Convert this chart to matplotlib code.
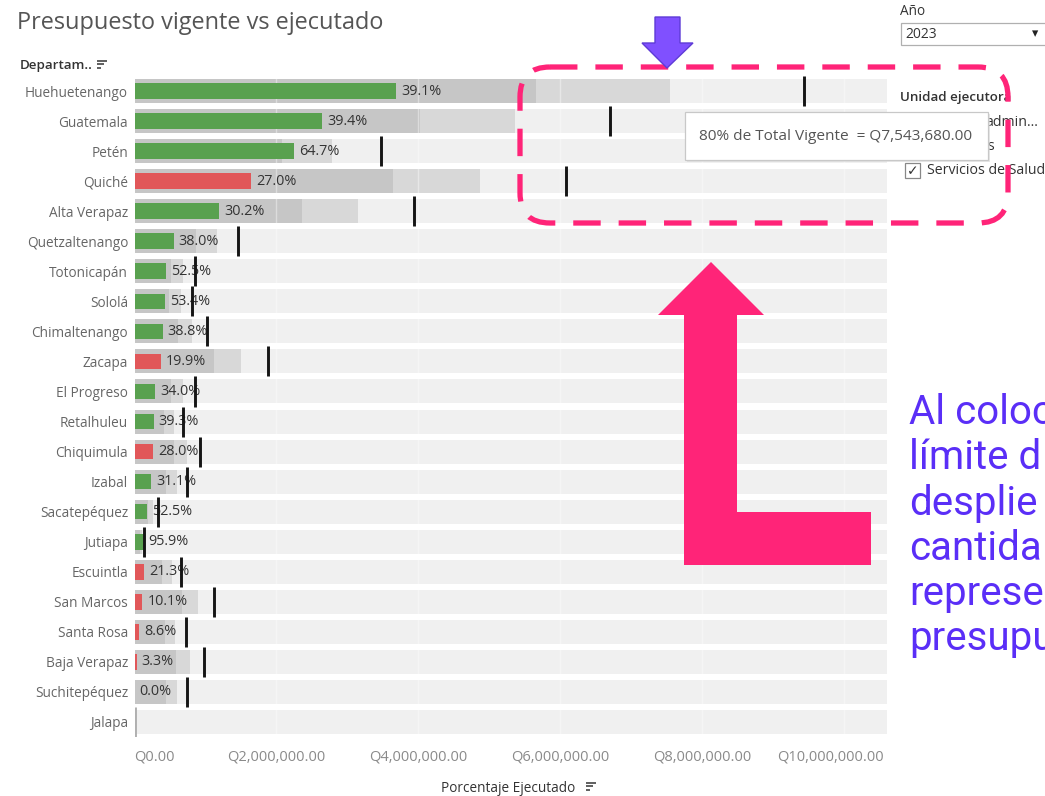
import matplotlib
matplotlib.use('Agg')
import matplotlib.pyplot as plt
from matplotlib.patches import Rectangle, Polygon, FancyBboxPatch
from matplotlib.transforms import blended_transform_factory, offset_copy
import numpy as np

# ---------------- data ----------------
departamentos = ['Huehuetenango', 'Guatemala', 'Petén', 'Quiché', 'Alta Verapaz',
                 'Quetzaltenango', 'Totonicapán', 'Sololá', 'Chimaltenango', 'Zacapa',
                 'El Progreso', 'Retalhuleu', 'Chiquimula', 'Izabal', 'Sacatepéquez',
                 'Jutiapa', 'Escuintla', 'San Marcos', 'Santa Rosa', 'Baja Verapaz',
                 'Suchitepéquez', 'Jalapa']
# Total vigente (Q)
vigente = [9429600, 6702000, 3474000, 6082000, 3939000,
           1455000, 853000, 815000, 1018000, 1877000,
           853000, 688000, 919000, 740000, 327000,
           134000, 655000, 1116000, 722000, 984000,
           740000, 0]
# Porcentaje ejecutado (%)
porcentaje = [39.1, 39.4, 64.7, 27.0, 30.2,
              38.0, 52.5, 53.4, 38.8, 19.9,
              34.0, 39.3, 28.0, 31.1, 52.5,
              95.9, 21.3, 10.1, 8.6, 3.3,
              0.0, None]
x_ticks = [0, 2e6, 4e6, 6e6, 8e6, 10e6]
x_tick_labels = ['Q0.00', 'Q2,000,000.00', 'Q4,000,000.00', 'Q6,000,000.00',
                 'Q8,000,000.00', 'Q10,000,000.00']
banda_60 = 0.6
banda_80 = 0.8
umbral_rojo = 30.0

# ---------------- figure ----------------
W, H = 1045, 796
plt.rcParams['font.family'] = ['Open Sans', 'DejaVu Sans']
fig = plt.figure(figsize=(W / 100, H / 100), dpi=100)
fig.patch.set_facecolor('white')

x0_px, x1_px = 134.5, 887.0
top_px, bot_px = 76.0, 737.0
ax = fig.add_axes([x0_px / W, 1 - bot_px / H, (x1_px - x0_px) / W, (bot_px - top_px) / H])

n = len(departamentos)
y = np.arange(n)
vig = np.array(vigente, dtype=float)
pct = np.array([p if p is not None else 0.0 for p in porcentaje])
ejec = vig * pct / 100.0
xmax = 10.606e6

GREEN = '#59a14f'
RED = '#e15759'
colors = [RED if (p is not None and p < umbral_rojo) else GREEN for p in porcentaje]
ref_colors = ['#151515' if v > 0 else '#b0b0b0' for v in vig]

ax.barh(y, [xmax] * n, height=0.8, color='#f0f0f0', zorder=1)
ax.barh(y, vig * banda_80, height=0.8, color='#d8d8d8', zorder=2)
ax.barh(y, vig * banda_60, height=0.8, color='#c6c6c6', zorder=3)
for t in x_ticks[1:]:
    ax.axvline(t, color='white', lw=1.0, alpha=0.4, zorder=4)
ax.barh(y, ejec, height=0.52, color=colors, zorder=5)
for i in range(n):
    if porcentaje[i] is not None:
        ax.annotate(f'{porcentaje[i]:.1f}%', (ejec[i], y[i]), xytext=(3.6, 0),
                    textcoords='offset points', va='center', ha='left',
                    fontsize=10.4, color='#333333', zorder=6)
ax.vlines(vig, y - 0.5, y + 0.5, colors=ref_colors, lw=2.1, zorder=7)

ax.set_xlim(0, xmax)
ax.set_ylim(n - 0.5, -0.5)
ax.set_yticks(y)
ax.set_yticklabels(departamentos, fontsize=9.8, color='#666666')
ax.set_xticks(x_ticks)
ax.set_xticklabels([])
ax.tick_params(axis='y', length=0, pad=4.6)
ax.tick_params(axis='x', length=0)
for s in ax.spines.values():
    s.set_visible(False)
ax.set_facecolor('white')

# x tick labels: edge labels are kept inside the axis range (as Tableau does)
btr = blended_transform_factory(ax.transData, ax.transAxes)
ylab = -(757 - bot_px) / (bot_px - top_px)
for k, (t, lab) in enumerate(zip(x_ticks, x_tick_labels)):
    if k == 0:
        ax.text(t, ylab, lab, transform=btr, ha='left', va='center', fontsize=10.5,
                color='#8a8a8a', clip_on=False)
    elif k == len(x_ticks) - 1:
        ax.text(xmax, ylab, lab, transform=offset_copy(btr, fig=fig, x=-3, units='dots'),
                ha='right', va='center', fontsize=10.5, color='#8a8a8a', clip_on=False)
    else:
        ax.text(t, ylab, lab, transform=btr, ha='center', va='center', fontsize=10.5,
                color='#8a8a8a', clip_on=False)

# ---------------- overlay (pixel coordinates) ----------------
oax = fig.add_axes([0, 0, 1, 1], zorder=10)
oax.set_xlim(0, W)
oax.set_ylim(H, 0)
oax.axis('off')

def sort_icon(x, yc):
    for k, L in enumerate([10, 7, 3.5]):
        oax.plot([x, x + L], [yc - 3.5 + 3.5 * k] * 2, color='#444444', lw=1.2,
                 solid_capstyle='butt')

# title
oax.text(17, 23, 'Presupuesto vigente vs ejecutado', fontsize=16.9, color='#555555',
         va='center', ha='left')
# header
oax.text(20, 66, 'Departam..', fontsize=9.6, color='#333333', va='center', ha='left',
         fontweight='semibold')
sort_icon(97, 64)
# x title
oax.text(441, 788, 'Porcentaje Ejecutado', fontsize=9.8, color='#333333', va='center',
         ha='left')
sort_icon(586, 786)

# right panel
oax.text(900, 15, 'Año', fontsize=9.8, color='#333333', va='baseline', ha='left')
oax.add_patch(Rectangle((900.5, 22.5), 150, 22, facecolor='white', edgecolor='#b0b0b0',
                        lw=0.9))
oax.text(905, 34, '2023', fontsize=10, color='#333333', va='center', ha='left')
oax.text(1035, 34, '▾', fontsize=9, color='#222222', va='center', ha='center',
         family=['DejaVu Sans'])
oax.text(900, 98, 'Unidad ejecutora', fontsize=9.6, color='#333333', va='center',
         ha='left', fontweight='semibold')
oax.text(985, 123, 'admin...', fontsize=10.2, color='#333333', va='center', ha='left')
oax.text(980, 146, 'es', fontsize=10.2, color='#333333', va='center', ha='left')
oax.add_patch(Rectangle((905, 163), 15, 15, facecolor='white', edgecolor='#888888', lw=0.9))
oax.text(912.5, 171, '✓', fontsize=10, color='#333333', va='center', ha='center',
         family=['DejaVu Sans'])
oax.text(927, 171, 'Servicios de Salud', fontsize=10.2, color='#333333', va='center',
         ha='left')

# tooltip
oax.add_patch(Rectangle((687, 114), 303, 48, facecolor='#d8d8d8', edgecolor='none',
                        alpha=0.6, zorder=3))
oax.add_patch(Rectangle((685, 112), 303, 48, facecolor='white', edgecolor='#c8c8c8',
                        lw=0.9, zorder=3.1))
oax.text(699, 137, '80% de Total Vigente  = Q7,543,680.00', fontsize=11.1,
         color='#555555', va='center', ha='left', zorder=3.2)

# pink dashed rounded box
PINK = '#ff2478'
box = FancyBboxPatch((520, 67), 488, 156, boxstyle='round,pad=0,rounding_size=30',
                     facecolor='none', edgecolor=PINK, lw=3.8,
                     linestyle=(0, (5.2, 3.4)), zorder=4)
box.set_capstyle('butt')
oax.add_patch(box)

# purple arrow
oax.add_patch(Polygon([(655, 17), (680, 17), (680, 43), (693, 43), (667, 68), (642, 43),
                       (655, 43)], closed=True, facecolor='#8050ff', edgecolor='#5e3bd6',
                      lw=1.0, zorder=5))

# pink L arrow
oax.add_patch(Polygon([(711, 262), (764, 315), (737, 315), (737, 512), (871, 512),
                       (871, 565), (684, 565), (684, 315), (658, 315)], closed=True,
                      facecolor=PINK, edgecolor='none', zorder=5))

# annotation text (visible part; the rest is cut at the figure edge in the reference)
anot = ['Al coloc', 'límite d', 'desplie', 'cantida', 'represe', 'presupu']
for k, line in enumerate(anot):
    oax.text(909, 424 + 45.3 * k, line, fontsize=29, color='#5a2ef7', va='baseline',
             ha='left', family=['Roboto', 'DejaVu Sans'], zorder=6)

fig.savefig('out.png', dpi=100)
